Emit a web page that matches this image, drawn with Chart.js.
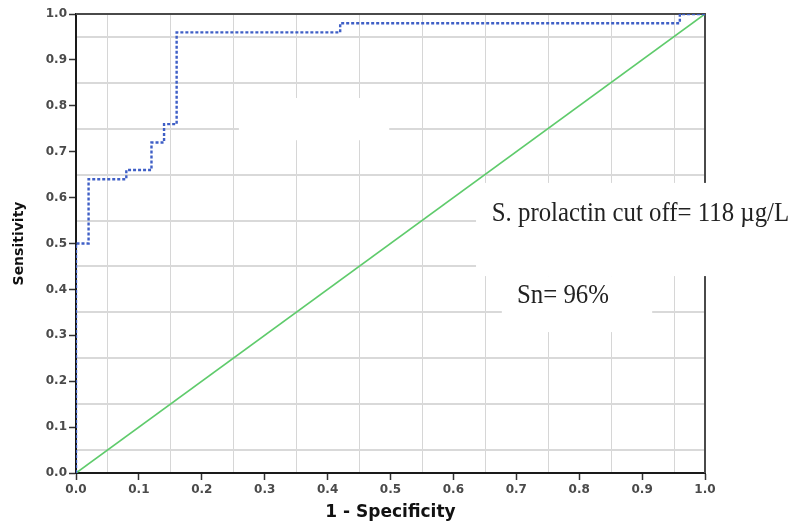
<!DOCTYPE html>
<html><head><meta charset="utf-8">
<script src="https://cdn.jsdelivr.net/npm/chart.js@4.4.1/dist/chart.umd.min.js"></script>
<style>html,body{margin:0;padding:0;background:#fff;}canvas{display:block}</style>
</head><body>
<canvas id="c" width="792" height="523"></canvas>
<script>
// ROC curve (empirical step points)
const fpr = [0, 0, 0.02, 0.08, 0.12, 0.14, 0.16, 0.42, 0.96, 1.0];
const tpr = [0, 0.50, 0.64, 0.66, 0.72, 0.76, 0.96, 0.98, 1.0, 1.0];
// Reference (chance) line
const refX = [0, 1];
const refY = [0, 1];
// Axis ticks and mid-step grid values
const tickLabels = ['0.0','0.1','0.2','0.3','0.4','0.5','0.6','0.7','0.8','0.9','1.0'];
const gridValues = [0.05,0.15,0.25,0.35,0.45,0.55,0.65,0.75,0.85,0.95];
const xTitle = '1 - Specificity';
const yTitle = 'Sensitivity';
const noteCutoff = 'S. prolactin cut off= 118 \u00b5g/L';
const noteSn = 'Sn= 96%';

const rocData = fpr.map((v, i) => ({x: v, y: tpr[i]}));
const refData = refX.map((v, i) => ({x: v, y: refY[i]}));

const decor = {
  id: 'decor',
  beforeDraw(chart, args, o) {
    const {ctx, chartArea: a, scales: {x, y}} = chart;
    ctx.save();
    ctx.strokeStyle = o.vGridColor; ctx.lineWidth = o.vGridWidth;
    gridValues.forEach(v => {
      const px = Math.round(x.getPixelForValue(v)) + 0.5;
      ctx.beginPath(); ctx.moveTo(px, a.top); ctx.lineTo(px, a.bottom); ctx.stroke();
    });
    ctx.strokeStyle = o.hGridColor; ctx.lineWidth = o.hGridWidth;
    gridValues.forEach(v => {
      const py = Math.round(y.getPixelForValue(v));
      ctx.beginPath(); ctx.moveTo(a.left, py); ctx.lineTo(a.right, py); ctx.stroke();
    });
    ctx.restore();
  },
  beforeDatasetsDraw(chart, args, o) {
    const {ctx, chartArea: a, scales: {x, y}} = chart;
    ctx.save();
    ctx.strokeStyle = o.frameColor; ctx.lineWidth = 2;
    ctx.beginPath(); ctx.moveTo(a.left, a.top); ctx.lineTo(a.right + 1, a.top); ctx.stroke();
    ctx.beginPath(); ctx.moveTo(a.right, a.top); ctx.lineTo(a.right, a.bottom); ctx.stroke();
    ctx.fillStyle = '#ffffff';
    o.boxes.forEach(b => {
      const x0 = x.getPixelForValue(b[0]), x1 = x.getPixelForValue(b[1]);
      const y0 = y.getPixelForValue(b[3]), y1 = y.getPixelForValue(b[2]);
      ctx.fillRect(x0, y0, x1 - x0, y1 - y0);
    });
    ctx.restore();
  },
  afterDatasetsDraw(chart, args, o) {
    const {ctx, scales: {x, y}} = chart;
    ctx.save();
    ctx.fillStyle = o.noteColor;
    ctx.font = o.noteFont;
    ctx.textBaseline = 'alphabetic';
    ctx.textAlign = 'left';
    o.notes.forEach(n => {
      ctx.save();
      ctx.translate(x.getPixelForValue(n.x), y.getPixelForValue(n.y));
      ctx.scale(o.noteScaleX, 1);
      ctx.fillText(n.text, 0, 0);
      ctx.restore();
    });
    ctx.restore();
  }
};

const axisCommon = {
  type: 'linear', min: 0, max: 1,
  border: {display: true, color: '#1a1a1a', width: 2},
  grid: {drawOnChartArea: false, drawTicks: true, tickLength: 7, tickColor: '#333', tickWidth: 1.5},
};

new Chart(document.getElementById('c'), {
  type: 'scatter',
  data: {
    datasets: [
      {data: rocData, showLine: true, stepped: 'before', borderColor: '#3f5fc6', borderWidth: 2.4,
       borderDash: [3, 2], pointRadius: 0, fill: false},
      {data: refData, showLine: true, borderColor: '#5fcb6c', borderWidth: 1.7, pointRadius: 0, fill: false}
    ]
  },
  options: {
    responsive: false, animation: false, devicePixelRatio: 1,
    layout: {padding: {left: 0, top: 14, right: 87, bottom: 0}},
    plugins: {
      legend: {display: false}, tooltip: {enabled: false},
      decor: {
        vGridColor: '#d6d6d6', vGridWidth: 1, hGridColor: '#d9d9d9', hGridWidth: 2, frameColor: '#4a4a4a',
        boxes: [[0.259, 0.498, 0.725, 0.817], [0.636, 1.15, 0.429, 0.632], [0.677, 0.916, 0.307, 0.429]],
        noteColor: '#222', noteFont: '27px "Liberation Serif", "Times New Roman", serif', noteScaleX: 0.92,
        notes: [{text: noteCutoff, x: 0.661, y: 0.549}, {text: noteSn, x: 0.701, y: 0.370}]
      }
    },
    scales: {
      x: Object.assign({}, axisCommon, {
        position: 'bottom',
        afterFit: s => { s.height = 50; },
        ticks: {stepSize: 0.1, autoSkip: false, maxRotation: 0, padding: 3, color: '#4a4a4a',
          font: {family: '"DejaVu Sans", sans-serif', size: 12, weight: 'bold'},
          callback: (v, i) => tickLabels[i]},
        title: {display: true, text: xTitle, color: '#111', padding: {top: 0, bottom: 0},
          font: {family: '"DejaVu Sans", sans-serif', size: 17, weight: 'bold'}}
      }),
      y: Object.assign({}, axisCommon, {
        position: 'left',
        afterFit: s => { s.width = 76; },
        ticks: {stepSize: 0.1, autoSkip: false, padding: 2, color: '#4a4a4a',
          font: {family: '"DejaVu Sans", sans-serif', size: 12, weight: 'bold'},
          callback: (v, i) => tickLabels[i]},
        title: {display: true, text: yTitle, color: '#111', padding: {top: 11, bottom: 0},
          font: {family: '"DejaVu Sans", sans-serif', size: 14, weight: 'bold'}}
      })
    }
  },
  plugins: [decor]
});
</script>
</body></html>
